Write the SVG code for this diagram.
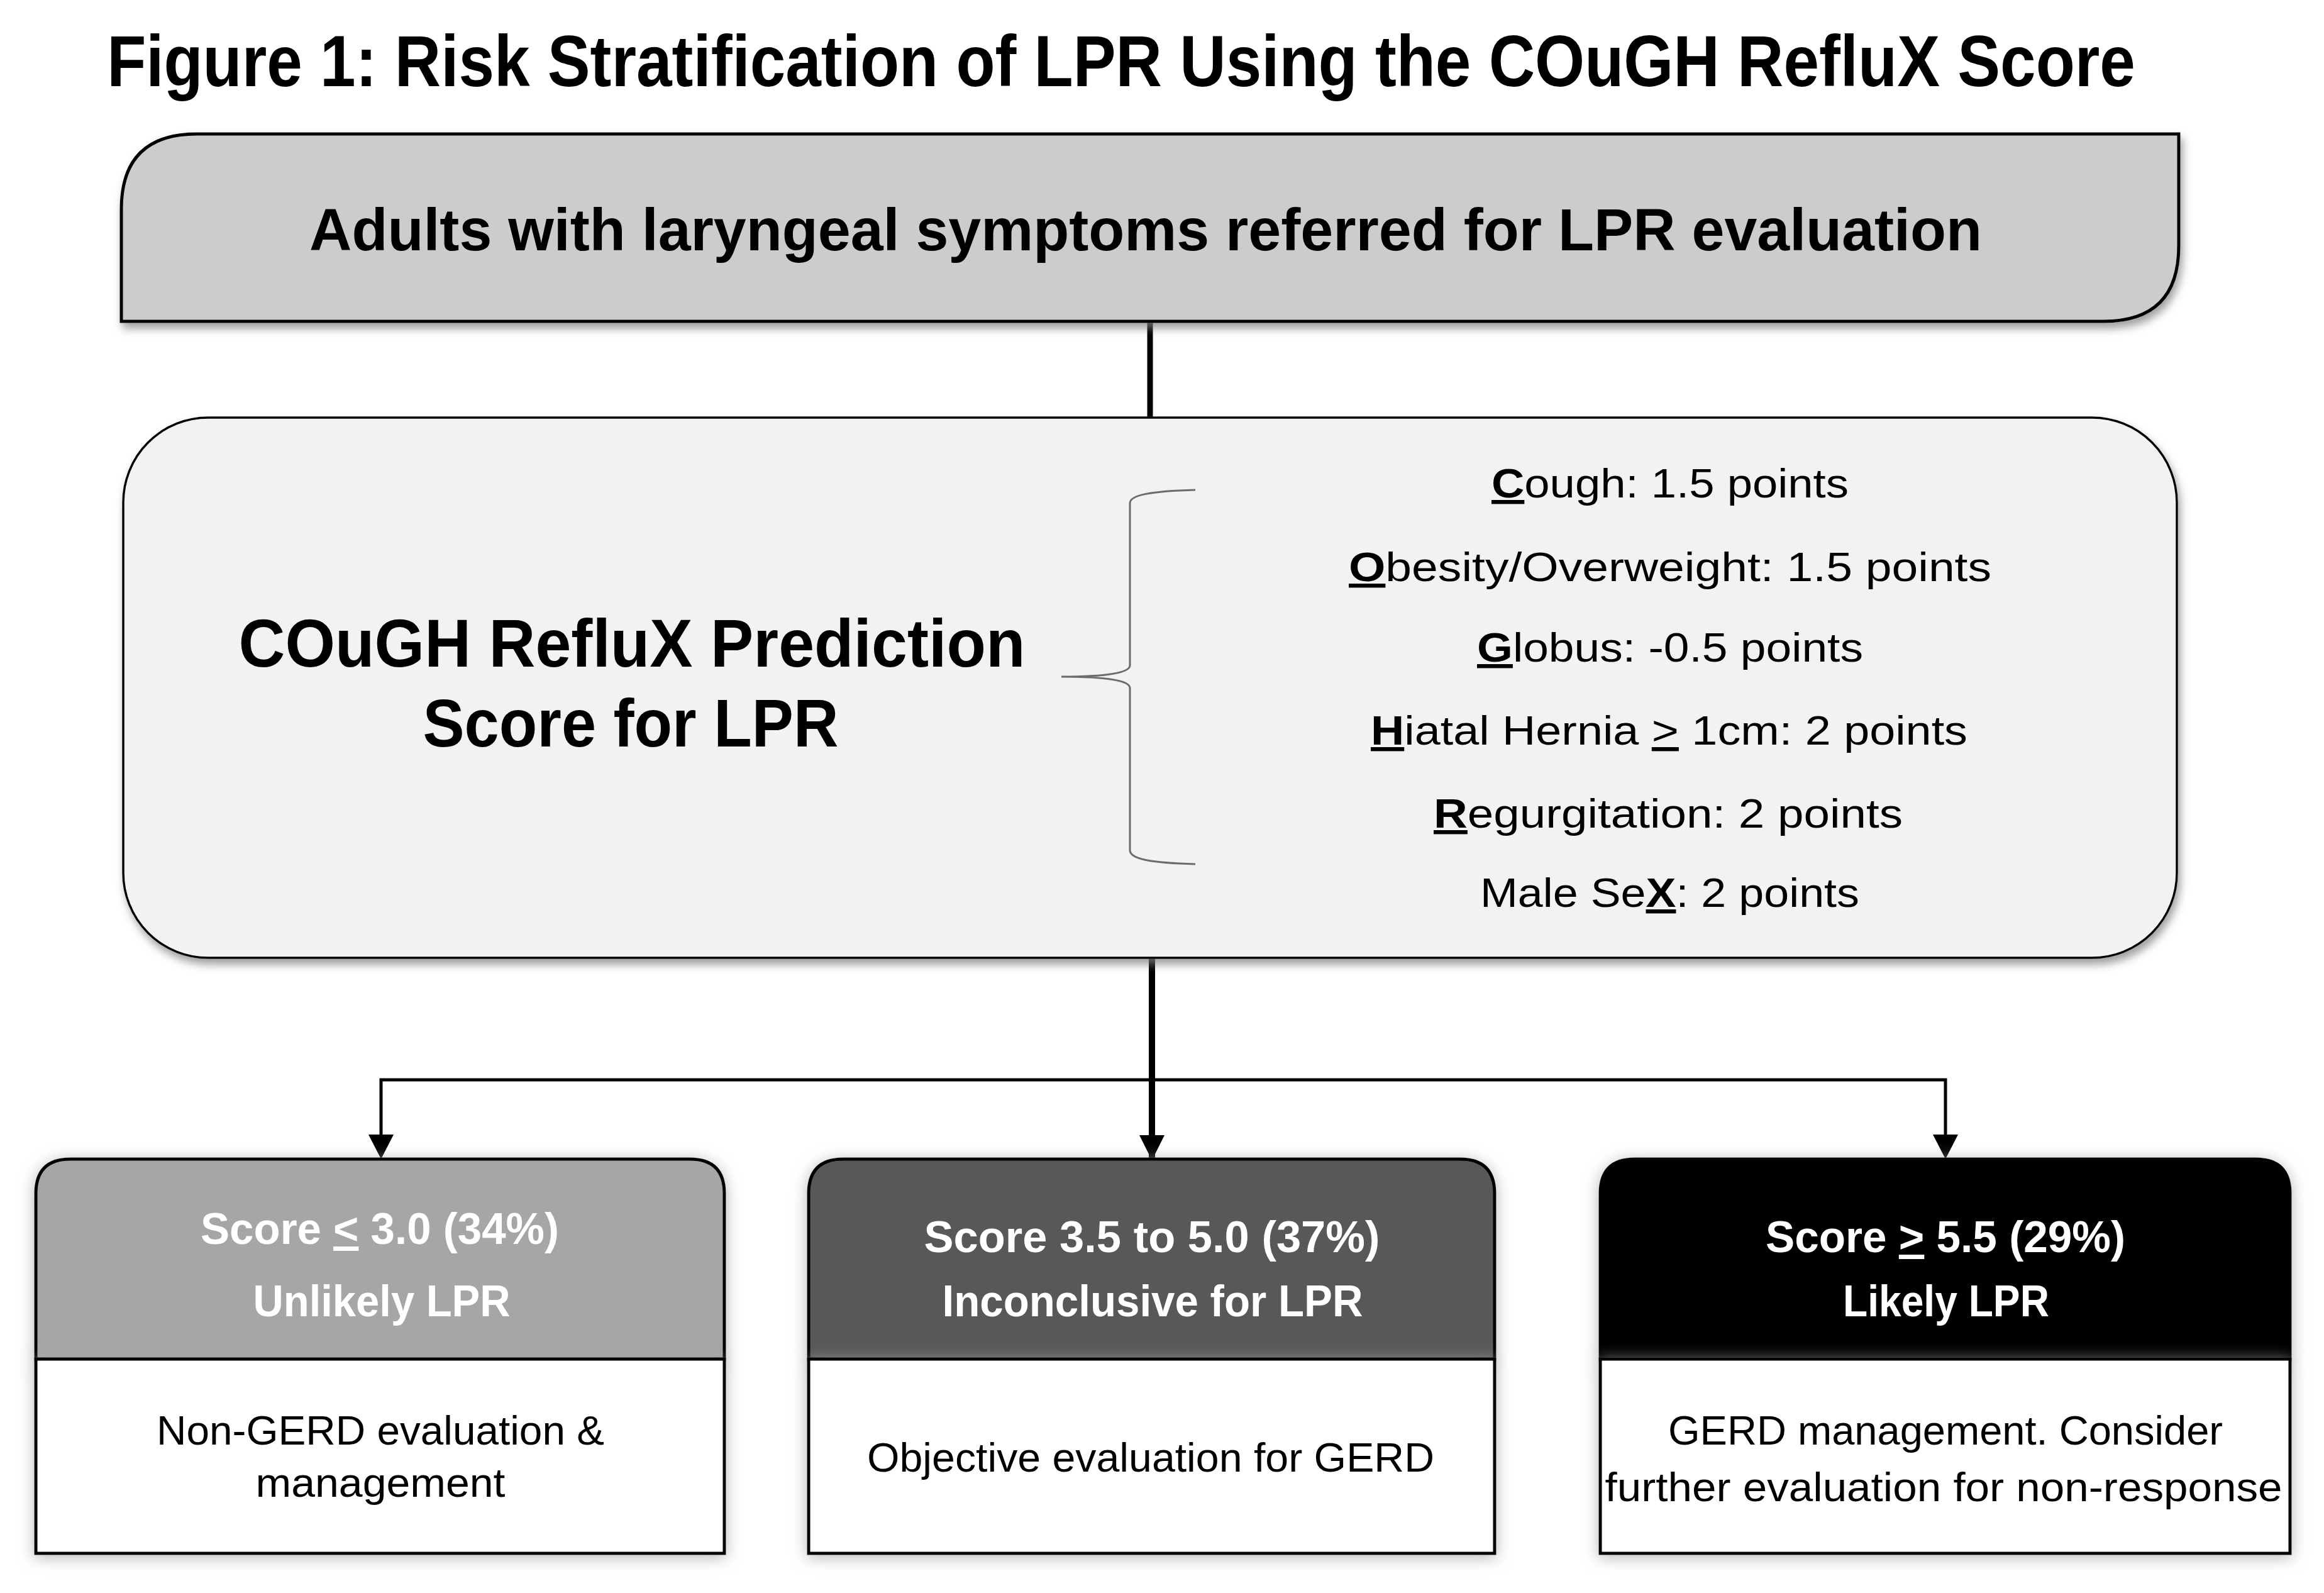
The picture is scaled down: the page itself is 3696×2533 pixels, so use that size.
<svg xmlns="http://www.w3.org/2000/svg" width="3696" height="2533" viewBox="0 0 3696 2533">
<style>
text{font-family:"Liberation Sans",Arial,sans-serif;}
.b{font-weight:bold;}
.w{fill:#ffffff;}
.u{text-decoration:underline;font-weight:bold;}
.ul{text-decoration:underline;}
.conn{stroke:#000;fill:none;}
.res{stroke:#000;stroke-width:5;}
</style>
<defs>
<filter id="sh" x="-5%" y="-10%" width="110%" height="125%">
<feGaussianBlur in="SourceAlpha" stdDeviation="7"/>
<feOffset dx="4" dy="9" result="o"/>
<feFlood flood-color="#7f7f7f" flood-opacity="0.75"/>
<feComposite in2="o" operator="in"/>
<feMerge><feMergeNode/><feMergeNode in="SourceGraphic"/></feMerge>
</filter>
<filter id="glow" x="-10%" y="-20%" width="120%" height="140%">
<feGaussianBlur in="SourceAlpha" stdDeviation="12"/>
<feOffset dx="0" dy="4" result="o"/>
<feFlood flood-color="#a8a8a8" flood-opacity="0.85"/>
<feComposite in2="o" operator="in"/>
<feMerge><feMergeNode/><feMergeNode in="SourceGraphic"/></feMerge>
</filter>
<marker id="arr" markerUnits="userSpaceOnUse" markerWidth="40" markerHeight="42" refX="38" refY="20" orient="auto">
<path d="M0,0 L40,20 L0,40 Z" fill="#000"/>
</marker>
</defs>
<rect width="3696" height="2533" fill="#ffffff"/>

<g id="title">
<text class="b" transform="translate(1783,137) scale(0.75,1)" x="0" y="0" font-size="115" text-anchor="middle" textLength="4301" lengthAdjust="spacingAndGlyphs">Figure 1: Risk Stratification of LPR Using the COuGH RefluX Score</text>
</g>

<g id="connectors">
<line class="conn" x1="1829" y1="511" x2="1829" y2="664" stroke-width="9"/>
<line class="conn" x1="1832" y1="1523" x2="1832" y2="1843" stroke-width="10" marker-end="url(#arr)"/>
<polyline class="conn" points="606,1806 606,1717 3094,1717 3094,1806" stroke-width="5"/>
<path d="M586,1804 L626,1804 L606,1843 Z" fill="#000"/>
<path d="M3074,1804 L3114,1804 L3094,1843 Z" fill="#000"/>
</g>

<g id="node-population">
<path d="M313,213 L3465,213 L3465,391 Q3465,511 3345,511 L193,511 L193,333 Q193,213 313,213 Z" fill="#cccccc" stroke="#000" stroke-width="5" filter="url(#sh)"/>
<text class="b" x="1822" y="398" font-size="95" text-anchor="middle" textLength="2660" lengthAdjust="spacingAndGlyphs">Adults with laryngeal symptoms referred for LPR evaluation</text>
</g>

<g id="node-score">
<rect x="196" y="664" width="3266" height="859" rx="135" ry="135" fill="#f2f2f2" stroke="#000" stroke-width="3.5" filter="url(#sh)"/>
<text class="b" x="1005" y="1060" font-size="108" text-anchor="middle" textLength="1251" lengthAdjust="spacingAndGlyphs">COuGH RefluX Prediction</text>
<text class="b" x="1003" y="1187" font-size="108" text-anchor="middle" textLength="661" lengthAdjust="spacingAndGlyphs">Score for LPR</text>
<path d="M1901,779 C1830,781 1797,787 1797,800 L1797,1058 C1797,1070 1760,1076 1688,1076 C1760,1076 1797,1082 1797,1094 L1797,1352 C1797,1366 1830,1372 1901,1374" fill="none" stroke="#6b6b6b" stroke-width="3"/>
<g font-size="64">
<text x="2372" y="791" textLength="568" lengthAdjust="spacingAndGlyphs"><tspan class="u">C</tspan>ough: 1.5 points</text>
<text x="2145" y="924" textLength="1022" lengthAdjust="spacingAndGlyphs"><tspan class="u">O</tspan>besity/Overweight: 1.5 points</text>
<text x="2349" y="1052" textLength="614" lengthAdjust="spacingAndGlyphs"><tspan class="u">G</tspan>lobus: -0.5 points</text>
<text x="2180" y="1184" textLength="949" lengthAdjust="spacingAndGlyphs"><tspan class="u">H</tspan>iatal Hernia <tspan class="ul">&gt;</tspan> 1cm: 2 points</text>
<text x="2280" y="1316" textLength="746" lengthAdjust="spacingAndGlyphs"><tspan class="u">R</tspan>egurgitation: 2 points</text>
<text x="2354" y="1442" textLength="603" lengthAdjust="spacingAndGlyphs">Male Se<tspan class="u">X</tspan>: 2 points</text>
</g>
</g>

<g id="node-unlikely">
<path class="res" d="M57,2161 L57,1898 Q57,1843 112,1843 L1097,1843 Q1152,1843 1152,1898 L1152,2161 Z" fill="#a6a6a6" filter="url(#glow)"/>
<rect class="res" x="57" y="2161" width="1095" height="309" fill="#ffffff" filter="url(#glow)"/>
<text class="b w" x="604" y="1978" font-size="70" text-anchor="middle" textLength="570" lengthAdjust="spacingAndGlyphs">Score <tspan class="ul">&lt;</tspan> 3.0 (34%)</text>
<text class="b w" x="607" y="2093" font-size="70" text-anchor="middle" textLength="409" lengthAdjust="spacingAndGlyphs">Unlikely LPR</text>
<text x="605" y="2297" font-size="64" text-anchor="middle" textLength="712" lengthAdjust="spacingAndGlyphs">Non-GERD evaluation &amp;</text>
<text x="605" y="2380" font-size="64" text-anchor="middle" textLength="397" lengthAdjust="spacingAndGlyphs">management</text>
</g>

<g id="node-inconclusive">
<path class="res" d="M1286,2161 L1286,1898 Q1286,1843 1341,1843 L2322,1843 Q2377,1843 2377,1898 L2377,2161 Z" fill="#595959" filter="url(#glow)"/>
<rect class="res" x="1286" y="2161" width="1091" height="309" fill="#ffffff" filter="url(#glow)"/>
<text class="b w" x="1832" y="1991" font-size="70" text-anchor="middle" textLength="725" lengthAdjust="spacingAndGlyphs">Score 3.5 to 5.0 (37%)</text>
<text class="b w" x="1833" y="2093" font-size="70" text-anchor="middle" textLength="669" lengthAdjust="spacingAndGlyphs">Inconclusive for LPR</text>
<text x="1830" y="2340" font-size="64" text-anchor="middle" textLength="902" lengthAdjust="spacingAndGlyphs">Objective evaluation for GERD</text>
</g>

<g id="node-likely">
<path class="res" d="M2545,2161 L2545,1898 Q2545,1843 2600,1843 L3587,1843 Q3642,1843 3642,1898 L3642,2161 Z" fill="#000000" filter="url(#glow)"/>
<rect class="res" x="2545" y="2161" width="1097" height="309" fill="#ffffff" filter="url(#glow)"/>
<text class="b w" x="3094" y="1991" font-size="70" text-anchor="middle" textLength="572" lengthAdjust="spacingAndGlyphs">Score <tspan class="ul">&gt;</tspan> 5.5 (29%)</text>
<text class="b w" x="3095" y="2093" font-size="70" text-anchor="middle" textLength="328" lengthAdjust="spacingAndGlyphs">Likely LPR</text>
<text x="3094" y="2297" font-size="64" text-anchor="middle" textLength="882" lengthAdjust="spacingAndGlyphs">GERD management. Consider</text>
<text x="3091" y="2387" font-size="64" text-anchor="middle" textLength="1077" lengthAdjust="spacingAndGlyphs">further evaluation for non-response</text>
</g>
</svg>
